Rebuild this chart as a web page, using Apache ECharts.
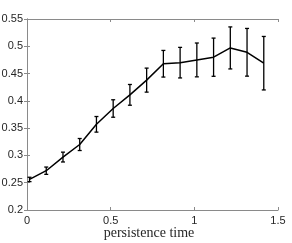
<!DOCTYPE html>
<html><head><meta charset="utf-8">
<script src="https://cdn.jsdelivr.net/npm/echarts@6/dist/echarts.min.js"></script>
<style>html,body{margin:0;padding:0;background:#fff}#c{width:292px;height:243px}</style>
</head><body><div id="c"></div>
<script>
var xValues = [0.015,0.115,0.215,0.315,0.415,0.515,0.615,0.715,0.815,0.915,1.015,1.115,1.215,1.315,1.415];
var meanValues = [0.256,0.272,0.297,0.320,0.357,0.386,0.411,0.438,0.468,0.470,0.475,0.480,0.497,0.489,0.469];
var errValues = [0.004,0.0067,0.009,0.011,0.0143,0.016,0.019,0.022,0.0244,0.028,0.031,0.035,0.0385,0.0437,0.049];
var xTickLabels = ['0','0.5','1','1.5'];
var yTickLabels = ['0.2','0.25','0.3','0.35','0.4','0.45','0.5','0.55'];
var xAxisTitle = 'persistence time';

var lineData = xValues.map(function(x,i){return [x, meanValues[i]];});
var errData = xValues.map(function(x,i){return [x, meanValues[i]-errValues[i], meanValues[i]+errValues[i]];});

var axisCol = '#262626';
var boxCol = '#8a8a8a';
var chart = echarts.init(document.getElementById('c'));
chart.setOption({
  animation:false,
  grid:{left:27,right:14,top:19,bottom:33,show:false,containLabel:false,outerBoundsMode:'none'},
  graphic:[{
    type:'text',left:null,x:149,y:233.5,
    style:{text:xAxisTitle,fontFamily:'Liberation Serif',fontSize:14,fill:axisCol,
      textAlign:'center',textVerticalAlign:'middle',align:'center',verticalAlign:'middle'}
  }],
  xAxis:[{
    type:'value',min:0,max:1.5,interval:0.5,position:'bottom',
    axisLine:{lineStyle:{color:boxCol,width:1}},
    axisTick:{inside:true,length:3,lineStyle:{color:boxCol}},
    axisLabel:{fontFamily:'Liberation Sans',fontSize:11,color:axisCol,margin:5,
      formatter:function(v){var i=Math.round(v/0.5);return xTickLabels[i]||'';}},
    splitLine:{show:false}
  },{
    type:'value',min:0,max:1.5,interval:0.5,position:'top',
    axisLine:{show:true,lineStyle:{color:boxCol,width:1}},
    axisTick:{inside:true,length:3,lineStyle:{color:boxCol}},
    axisLabel:{show:false},splitLine:{show:false}
  }],
  yAxis:[{
    type:'value',min:0.2,max:0.55,interval:0.05,position:'left',
    axisLine:{show:true,lineStyle:{color:boxCol,width:1}},
    axisTick:{show:true,inside:true,length:3,lineStyle:{color:boxCol}},
    axisLabel:{fontFamily:'Liberation Sans',fontSize:11,color:axisCol,margin:4,
      formatter:function(v){var i=Math.round((v-0.2)/0.05);return yTickLabels[i]||'';}},
    splitLine:{show:false}
  },{
    type:'value',min:0.2,max:0.55,interval:0.05,position:'right',
    axisLine:{show:true,lineStyle:{color:boxCol,width:1}},
    axisTick:{show:true,inside:true,length:3,lineStyle:{color:boxCol}},
    axisLabel:{show:false},splitLine:{show:false}
  }],
  series:[{
    type:'line',data:lineData,xAxisIndex:0,yAxisIndex:0,
    showSymbol:false,lineStyle:{color:'#000',width:1.5},z:3
  },{
    type:'custom',data:errData,xAxisIndex:0,yAxisIndex:0,z:4,
    renderItem:function(params,api){
      var x=api.value(0);
      var lo=api.coord([x,api.value(1)]);
      var hi=api.coord([x,api.value(2)]);
      var w=2;
      var st={stroke:'#000',lineWidth:1.3};
      return {type:'group',children:[
        {type:'line',shape:{x1:lo[0],y1:lo[1],x2:hi[0],y2:hi[1]},style:st},
        {type:'line',shape:{x1:lo[0]-w,y1:lo[1],x2:lo[0]+w,y2:lo[1]},style:st},
        {type:'line',shape:{x1:hi[0]-w,y1:hi[1],x2:hi[0]+w,y2:hi[1]},style:st}
      ]};
    }
  }]
});
</script></body></html>
